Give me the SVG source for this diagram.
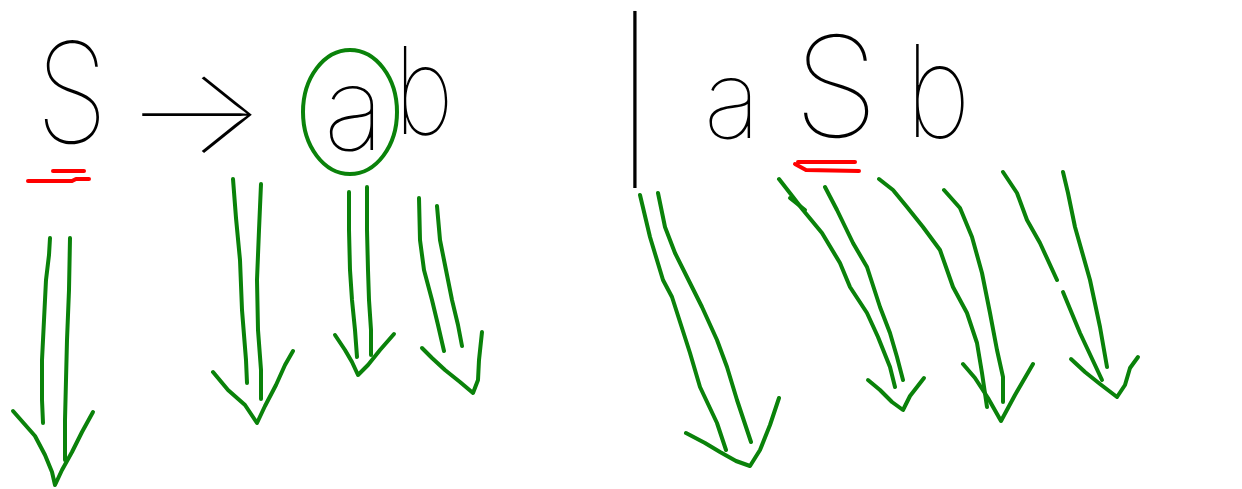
<svg xmlns="http://www.w3.org/2000/svg" width="1242" height="489" viewBox="0 0 1242 489">
<style>
.t{font-family:Inter,"DejaVu Sans","Liberation Sans",sans-serif;font-weight:130;fill:#000;text-anchor:middle}
.bar{font-weight:100}
.g{fill:none;stroke:#0a820a;stroke-width:4;stroke-linecap:round;stroke-linejoin:round}
.r{fill:none;stroke:#ff0000;stroke-width:4;stroke-linecap:round;stroke-linejoin:round}
</style>
<rect width="1242" height="489" fill="#fff"/>
<g id="formula">
<text class="t" transform="translate(72,143) scale(0.85,1)" x="0" y="0" font-size="139">S</text>
<text class="t" transform="translate(195,153) scale(1.25,1)" x="0" y="0" font-size="120">→</text>
<text class="t" x="354" y="150" font-size="115">a</text>
<text class="t" transform="translate(424,134) scale(0.85,1)" x="0" y="0" font-size="121">b</text>
<text class="t bar" x="635" y="153" font-size="148">|</text>
<text class="t" x="732" y="138" font-size="108">a</text>
<text class="t" x="836" y="137" font-size="140">S</text>
<text class="t" transform="translate(938,137) scale(0.88,1)" x="0" y="0" font-size="128">b</text>
</g>
<g id="marks">
<ellipse class="g" cx="350" cy="112" rx="47" ry="62"/>
<polyline class="r" points="28,181 72,181 76,179 89,179"/>
<polyline class="r" points="53,171 84,171"/>
<polyline class="r" points="798,162 855,162"/>
<polyline class="r" points="795,164 806,170 859,171"/>
</g>
<g id="connectors">
<polyline class="g" points="50,238 49,255 46,280 44,320 42,360 42,400 43,423"/>
<polyline class="g" points="70,238 69,290 67,340 66,380 65,420 65,460"/>
<polyline class="g" points="13,411 35,436 45,455 52,472 55,485 62,470 72,452 82,432 93,412"/>
<polyline class="g" points="233,179 236,218 240,260 242,310 246,360 247,383"/>
<polyline class="g" points="261,184 259,230 257,280 258,330 261,370 261,399"/>
<polyline class="g" points="213,372 228,390 245,405 257,423 265,406 276,385 285,365 293,351"/>
<polyline class="g" points="349,192 349,230 350,270 352,300 355,330 357,357"/>
<polyline class="g" points="367,187 367,230 368,270 369,300 371,330 371,355"/>
<polyline class="g" points="335,335 345,350 352,362 358,375 368,365 380,350 394,334"/>
<polyline class="g" points="419,198 420,240 424,270 432,300 438,325 444,351"/>
<polyline class="g" points="437,206 440,240 446,270 452,300 458,325 462,346"/>
<polyline class="g" points="422,348 432,358 445,370 460,382 473,393 478,380 479,360 482,332"/>
<polyline class="g" points="640,195 650,237 663,280 672,297 690,353 700,387 717,423 726,450"/>
<polyline class="g" points="658,193 665,227 675,253 690,283 702,307 717,340 727,367 737,400 751,442"/>
<polyline class="g" points="686,433 705,443 720,452 736,461 750,466 760,450 770,425 779,398"/>
<polyline class="g" points="779,179 793,197 803,210 822,233 840,263 850,287 867,313 878,337 890,367 895,387"/>
<polyline class="g" points="825,187 837,210 853,243 867,267 880,307 890,333 897,357 903,380"/>
<polyline class="g" points="790,198 805,210"/>
<polyline class="g" points="868,380 880,390 892,402 903,410 910,396 924,378"/>
<polyline class="g" points="879,179 893,190 907,207 923,227 940,250 953,287 967,313 977,343 982,373 987,407"/>
<polyline class="g" points="944,190 960,208 972,237 982,273 990,313 997,350 1003,377 1003,402"/>
<polyline class="g" points="963,364 975,378 988,398 1001,421 1015,395 1033,364"/>
<polyline class="g" points="1003,172 1017,193 1027,220 1040,243 1057,280"/>
<polyline class="g" points="1063,292 1080,333 1102,380"/>
<polyline class="g" points="1063,172 1068,193 1075,227 1090,280 1100,327 1107,367"/>
<polyline class="g" points="1071,359 1085,372 1100,384 1117,397 1125,385 1130,368 1138,357"/>
</g>
</svg>
